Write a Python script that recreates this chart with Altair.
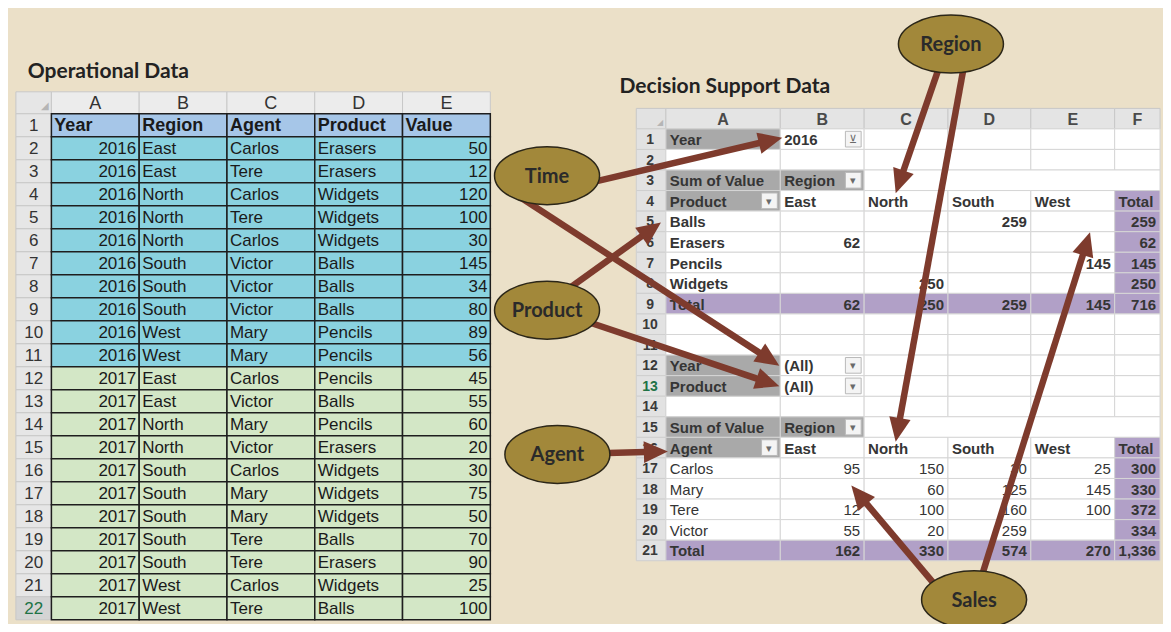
import math
import altair as alt
import pandas as pd

# ---------------- data ----------------
op_years = [2016, 2016, 2016, 2016, 2016, 2016, 2016, 2016, 2016, 2016,
            2017, 2017, 2017, 2017, 2017, 2017, 2017, 2017, 2017, 2017, 2017]
op_regions = ["East", "East", "North", "North", "North", "South", "South", "South", "West", "West",
              "East", "East", "North", "North", "South", "South", "South", "South", "South", "West", "West"]
op_agents = ["Carlos", "Tere", "Carlos", "Tere", "Carlos", "Victor", "Victor", "Victor", "Mary", "Mary",
             "Carlos", "Victor", "Mary", "Victor", "Carlos", "Mary", "Mary", "Tere", "Tere", "Carlos", "Tere"]
op_products = ["Erasers", "Erasers", "Widgets", "Widgets", "Widgets", "Balls", "Balls", "Balls", "Pencils", "Pencils",
               "Pencils", "Balls", "Pencils", "Erasers", "Widgets", "Widgets", "Widgets", "Balls", "Erasers", "Widgets", "Balls"]
op_values = [50, 12, 120, 100, 30, 145, 34, 80, 89, 56,
             45, 55, 60, 20, 30, 75, 50, 70, 90, 25, 100]
op_headers = ["Year", "Region", "Agent", "Product", "Value"]
op_letters = ["A", "B", "C", "D", "E"]

pv_letters = ["A", "B", "C", "D", "E", "F"]
pv_regions = ["East", "North", "South", "West"]
pv_products = ["Balls", "Erasers", "Pencils", "Widgets"]
pv_agents = ["Carlos", "Mary", "Tere", "Victor"]
pv_year = 2016

titles = ["Operational Data", "Decision Support Data"]
bubble_labels = ["Region", "Time", "Product", "Agent", "Sales"]

# ---------------- layout / style ----------------
BG = "#ebe0c8"
ARROW = "#7e3b2d"
BUBBLE_FILL = "#a2883a"
BUBBLE_STROKE = "#2b2618"

OP_RN = (8, 44)
OP_COLS = [44, 133, 222, 311, 400, 489]
OP_HDR = (86, 108.5)
OP_ROW0, OP_RH = 108.5, 23.6

PV_RN = (637, 667)
PV_COLS = [667, 783, 868, 953, 1037, 1122, 1168]
PV_HDR = (103, 124)
PV_ROW0, PV_RH = 124, 21.1

bubble_pos = [(956, 37), (546.5, 172), (546.5, 310), (557, 458), (979.5, 607)]
title_pos = [(20, 72), (620, 87)]

arrow_tails = [(570, 184), (510, 188), (560, 294), (570, 316), (590, 457),
               (946, 55), (970, 55), (945, 598), (985, 590)]
arrow_tips = [(785, 133), (782, 367), (662, 220), (782, 388), (669, 455),
              (900, 190), (900, 445), (855, 490), (1097, 230)]

ELLIPSE = ("M -1 0 C -1 -0.305 -0.552 -0.552 0 -0.552 C 0.552 -0.552 1 -0.305 1 0 "
           "C 1 0.305 0.552 0.552 0 0.552 C -0.552 0.552 -1 0.305 -1 0 Z")
HEAD = "M 0 0 L 0.45 1 L -0.45 1 Z"

rects, texts = [], []


def rect(x, x2, y, y2, fill, stroke, sw):
    rects.append(dict(x=x, x2=x2, y=y, y2=y2, fill=fill, stroke=stroke, sw=sw))


def text(x, y, s, align="left", weight="normal", font="Liberation Sans", size=17,
         color="#1a1a1a", baseline="middle", top=False):
    texts.append(dict(x=x, y=y, text=str(s), al=align, wt=weight, fn=font,
                      size=size, color=color, bl=baseline, top=top))


# ---------------- operational table ----------------
rect(OP_RN[0], OP_RN[1], OP_HDR[0], OP_HDR[1], "#e6e6e6", "#c8c8c8", 1)
text(38, 101, "◢", "center", size=10, color="#b5b5b5")
for j, L in enumerate(op_letters):
    rect(OP_COLS[j], OP_COLS[j + 1], OP_HDR[0], OP_HDR[1], "#ececec", "#c8c8c8", 1)
    text((OP_COLS[j] + OP_COLS[j + 1]) / 2, (OP_HDR[0] + OP_HDR[1]) / 2 + 1, L, "center",
         size=18, color="#333333")
n_rows = len(op_values) + 1
for i in range(n_rows):
    y0 = OP_ROW0 + i * OP_RH
    last = i == n_rows - 1
    rect(OP_RN[0], OP_RN[1], y0, y0 + OP_RH, "#d4d4d4" if last else "#e6e6e6", "#c8c8c8", 1)
    text((OP_RN[0] + OP_RN[1]) / 2, y0 + OP_RH / 2 + 1, i + 1, "center", size=17,
         color="#217346" if last else "#333333")
for j, h in enumerate(op_headers):
    rect(OP_COLS[j], OP_COLS[j + 1], OP_ROW0, OP_ROW0 + OP_RH, "#a6c6e8", "#1e1e1e", 1.5)
    text(OP_COLS[j] + 3, OP_ROW0 + OP_RH / 2 + 1, h, weight="bold", size=18)
for i in range(len(op_values)):
    y0 = OP_ROW0 + (i + 1) * OP_RH
    ym = y0 + OP_RH / 2 + 1
    fill = "#8ad2e0" if op_years[i] == 2016 else "#d3e7c6"
    for j in range(5):
        rect(OP_COLS[j], OP_COLS[j + 1], y0, y0 + OP_RH, fill, "#1e1e1e", 1.5)
    text(OP_COLS[1] - 3, ym, op_years[i], "right")
    text(OP_COLS[1] + 3, ym, op_regions[i])
    text(OP_COLS[2] + 3, ym, op_agents[i])
    text(OP_COLS[3] + 3, ym, op_products[i])
    text(OP_COLS[5] - 3, ym, op_values[i], "right")

# ---------------- pivot tables ----------------
ops = pd.DataFrame(dict(Year=op_years, Region=op_regions, Agent=op_agents,
                        Product=op_products, Value=op_values))
top = ops[ops.Year == pv_year].pivot_table(index="Product", columns="Region",
                                           values="Value", aggfunc="sum")
bot = ops.pivot_table(index="Agent", columns="Region", values="Value", aggfunc="sum")

GRAY, PURPLE, WHITE, GRID = "#a9a9a9", "#b1a0c7", "#ffffff", "#d6d6d6"
PTXT = "#353535"


def fmt(v):
    return "" if pd.isna(v) else "{:,}".format(int(v))


def prow(r):
    y0 = PV_ROW0 + (r - 1) * PV_RH
    return y0, y0 + PV_RH, y0 + PV_RH / 2 + 1


def pcell(r, c, fill, c2=None):
    y0, y1, _ = prow(r)
    rect(PV_COLS[c], PV_COLS[(c2 if c2 is not None else c) + 1], y0, y1, fill, GRID, 1)


def ptext(r, c, s, align="left", weight="bold", color=PTXT):
    _, _, ym = prow(r)
    x = PV_COLS[c] + 4 if align == "left" else PV_COLS[c + 1] - 4
    text(x, ym, s, align, weight, size=15, color=color)


def dropdown(r, c, glyph="▾"):
    y0, y1, ym = prow(r)
    xr = PV_COLS[c + 1] - 3
    rect(xr - 16, xr, y0 + 2.5, y1 - 2.5, "#f4f4f4", "#b9b9b9", 1)
    text(xr - 8, ym, glyph, "center", size=11, color="#6a6a6a")


rect(PV_RN[0], PV_RN[1], PV_HDR[0], PV_HDR[1], "#e2e2e2", "#c8c8c8", 1)
text(661, 118, "◢", "center", size=8, color="#b5b5b5")
for j, L in enumerate(pv_letters):
    rect(PV_COLS[j], PV_COLS[j + 1], PV_HDR[0], PV_HDR[1], "#e4e4e4", "#c8c8c8", 1)
    text((PV_COLS[j] + PV_COLS[j + 1]) / 2, (PV_HDR[0] + PV_HDR[1]) / 2 + 1, L, "center",
         "bold", size=16, color="#4a4a4a")
for r in range(1, 22):
    y0, y1, ym = prow(r)
    rect(PV_RN[0], PV_RN[1], y0, y1, "#e2e2e2", "#cfcfcf", 1)
    text(651, ym, r, "center", "bold", size=14, color="#217346" if r == 13 else "#3a3a3a")


def pivot_block(r0, row_label, rows, table, body_weight):
    pcell(r0, 0, GRAY)
    ptext(r0, 0, "Sum of Value")
    pcell(r0, 1, GRAY)
    ptext(r0, 1, "Region")
    dropdown(r0, 1)
    pcell(r0, 2, WHITE, 5)
    r = r0 + 1
    pcell(r, 0, GRAY)
    ptext(r, 0, row_label)
    dropdown(r, 0)
    for k, reg in enumerate(pv_regions):
        pcell(r, k + 1, WHITE)
        ptext(r, k + 1, reg)
    pcell(r, 5, PURPLE)
    ptext(r, 5, "Total")
    for i, name in enumerate(rows):
        rr = r + 1 + i
        pcell(rr, 0, WHITE)
        ptext(rr, 0, name, weight=body_weight)
        for k, reg in enumerate(pv_regions):
            pcell(rr, k + 1, WHITE)
            ptext(rr, k + 1, fmt(table.loc[name, reg]), "right", body_weight)
        pcell(rr, 5, PURPLE)
        ptext(rr, 5, fmt(table.loc[name].sum()), "right")
    rt = r + 1 + len(rows)
    for c in range(6):
        pcell(rt, c, PURPLE)
    ptext(rt, 0, "Total")
    for k, reg in enumerate(pv_regions):
        ptext(rt, k + 1, fmt(table[reg].sum()), "right")
    ptext(rt, 5, fmt(table.values[~pd.isna(table.values)].sum()), "right")


pcell(1, 0, GRAY)
ptext(1, 0, "Year")
pcell(1, 1, WHITE)
ptext(1, 1, pv_year)
dropdown(1, 1, "⊻")
for c in range(2, 6):
    pcell(1, c, WHITE)
for c in range(6):
    pcell(2, c, WHITE)
pivot_block(3, "Product", pv_products, top, "bold")
for rr in (10, 11, 14):
    for c in range(6):
        pcell(rr, c, WHITE)
for rr, lab in ((12, "Year"), (13, "Product")):
    pcell(rr, 0, GRAY)
    ptext(rr, 0, lab)
    pcell(rr, 1, WHITE)
    ptext(rr, 1, "(All)")
    dropdown(rr, 1)
    for c in range(2, 6):
        pcell(rr, c, WHITE)
pivot_block(15, "Agent", pv_agents, bot, "normal")

# ---------------- titles & bubble labels ----------------
for t, (x, y) in zip(titles, title_pos):
    text(x, y, t, "left", "bold", "Lato", 21, "#222222", "alphabetic")
for t, (x, y) in zip(bubble_labels, bubble_pos):
    text(x, y + 1, t, "center", "bold", "Lato", 20, "#2a2a2a", top=True)

# ---------------- arrows ----------------
lines, heads = [], []
for (tx, ty), (hx, hy) in zip(arrow_tails, arrow_tips):
    dx, dy = hx - tx, hy - ty
    L = math.hypot(dx, dy)
    ux, uy = dx / L, dy / L
    lines.append(dict(x=tx, y=ty, x2=hx - 14 * ux, y2=hy - 14 * uy))
    heads.append(dict(x=hx, y=hy, angle=math.degrees(math.atan2(dx, -dy)) % 360))

rect_df = pd.DataFrame(rects)
text_df = pd.DataFrame(texts)
line_df = pd.DataFrame(lines)
head_df = pd.DataFrame(heads)
bubble_df = pd.DataFrame(dict(x=[p[0] for p in bubble_pos], y=[p[1] for p in bubble_pos],
                              label=bubble_labels))

xs = alt.Scale(domain=[0, 1171], nice=False, zero=False)
ys = alt.Scale(domain=[0, 632], nice=False, zero=False, reverse=True)
X = alt.X("x:Q", scale=xs, axis=None)
Y = alt.Y("y:Q", scale=ys, axis=None)


def text_layers(df):
    out = []
    for (al, wt, fn, bl), g in df.groupby(["al", "wt", "fn", "bl"], sort=False):
        g = g[["x", "y", "text", "size", "color"]].reset_index(drop=True)
        out.append(alt.Chart(g).mark_text(align=al, fontWeight=wt, font=fn, baseline=bl).encode(
            x=X, y=Y, text="text:N",
            size=alt.Size("size:Q", scale=None),
            color=alt.Color("color:N", scale=None),
        ))
    return out


layers = [alt.Chart(rect_df).mark_rect().encode(
    x=X, x2="x2:Q", y=Y, y2="y2:Q",
    fill=alt.Fill("fill:N", scale=None),
    stroke=alt.Stroke("stroke:N", scale=None),
    strokeWidth=alt.StrokeWidth("sw:Q", scale=None),
)]
layers += text_layers(text_df[~text_df["top"]])
layers.append(alt.Chart(line_df).mark_rule(color=ARROW, strokeWidth=6.5, strokeCap="butt").encode(
    x=X, y=Y, x2="x2:Q", y2="y2:Q"))
layers.append(alt.Chart(head_df).mark_point(
    shape=HEAD, filled=True, fill=ARROW, opacity=1, size=2304, strokeWidth=0
).encode(x=X, y=Y, angle=alt.Angle("angle:Q", scale=None)))
layers.append(alt.Chart(bubble_df).mark_point(
    shape=ELLIPSE, filled=True, fill=BUBBLE_FILL, stroke=BUBBLE_STROKE, strokeWidth=1.5,
    opacity=1, size=11025
).encode(x=X, y=Y))
layers += text_layers(text_df[text_df["top"]])

chart = alt.layer(*layers).properties(
    width=1155, height=616, padding=0, autosize="none", background=BG
).configure_view(stroke=None)

chart.save("out.html", embed_options={"renderer": "svg", "actions": False})
